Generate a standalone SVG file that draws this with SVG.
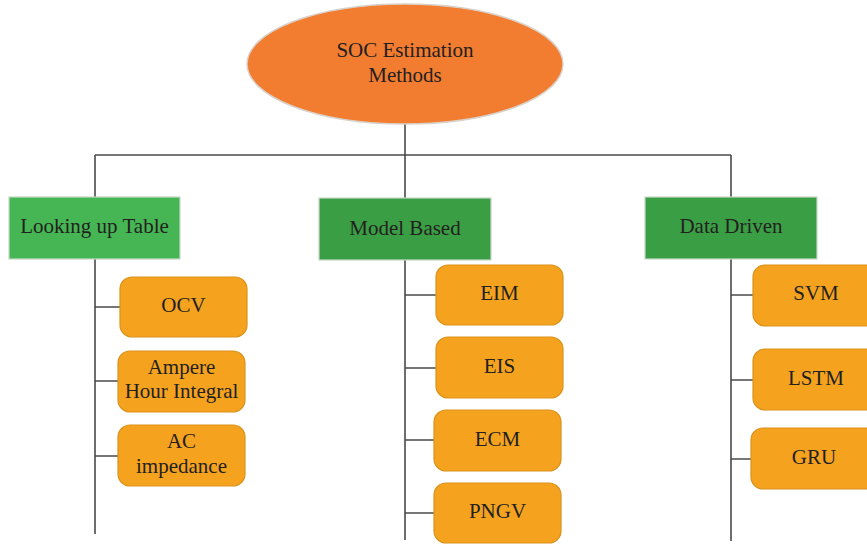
<svg xmlns="http://www.w3.org/2000/svg" width="867" height="544" viewBox="0 0 867 544">
<style>
text{font-family:"Liberation Serif","Times New Roman",serif;font-size:21px;fill:#231f20;text-anchor:middle}
.ln{stroke:#4a4a4a;stroke-width:1.6;fill:none}
.leaf{fill:#f5a31f;stroke:#d9921c;stroke-width:1.2}
.cat{stroke:#c8d8c8;stroke-width:1.2}
</style>
<rect width="867" height="544" fill="#ffffff"/>
<g id="connectors">
<path class="ln" d="M405 124V155M95 155H731M95 155V197M405 155V198M731 155V197"/>
<path class="ln" d="M95 259V534M95 307H120M95 381H118M95 456H118"/>
<path class="ln" d="M405 260V540M405 295H436M405 368H436M405 440H434M405 513H434"/>
<path class="ln" d="M731 259V541M731 295H753M731 380H753M731 459H751"/>
</g>
<g id="root">
<ellipse cx="405" cy="64" rx="158" ry="60" fill="#f27c30" stroke="#d9d0c8" stroke-width="1.5"/>
<text x="405" y="57">SOC Estimation</text>
<text x="405" y="82">Methods</text>
</g>
<g id="lut">
<rect class="cat" x="9" y="197" width="171" height="62" fill="#45b653"/>
<text x="94.5" y="233">Looking up Table</text>
</g>
<g id="model">
<rect class="cat" x="319" y="198" width="172" height="62" fill="#3a9e44" stroke="#2f8a3a"/>
<text x="405" y="235">Model Based</text>
</g>
<g id="data">
<rect class="cat" x="645" y="197" width="172" height="62" fill="#3a9e44" stroke="#2f8a3a"/>
<text x="731" y="233">Data Driven</text>
</g>
<g id="ocv">
<rect class="leaf" x="120" y="277" width="127" height="60" rx="12"/>
<text x="183.5" y="312">OCV</text>
</g>
<g id="ahi">
<rect class="leaf" x="118" y="351" width="127" height="61" rx="12"/>
<text x="181.5" y="374">Ampere</text>
<text x="181.5" y="398">Hour Integral</text>
</g>
<g id="aci">
<rect class="leaf" x="118" y="425" width="127" height="61" rx="12"/>
<text x="181.5" y="448">AC</text>
<text x="181.5" y="473">impedance</text>
</g>
<g id="eim">
<rect class="leaf" x="436" y="265" width="127" height="60" rx="12"/>
<text x="499.5" y="300">EIM</text>
</g>
<g id="eis">
<rect class="leaf" x="436" y="337" width="127" height="61" rx="12"/>
<text x="499.5" y="373">EIS</text>
</g>
<g id="ecm">
<rect class="leaf" x="434" y="410" width="127" height="61" rx="12"/>
<text x="497.5" y="446">ECM</text>
</g>
<g id="pngv">
<rect class="leaf" x="434" y="483" width="127" height="60" rx="12"/>
<text x="497.5" y="518">PNGV</text>
</g>
<g id="svm">
<rect class="leaf" x="753" y="265" width="127" height="61" rx="12"/>
<text x="816" y="300">SVM</text>
</g>
<g id="lstm">
<rect class="leaf" x="753" y="349" width="127" height="61" rx="12"/>
<text x="816" y="385">LSTM</text>
</g>
<g id="gru">
<rect class="leaf" x="751" y="428" width="127" height="61" rx="12"/>
<text x="814" y="464">GRU</text>
</g>
</svg>
